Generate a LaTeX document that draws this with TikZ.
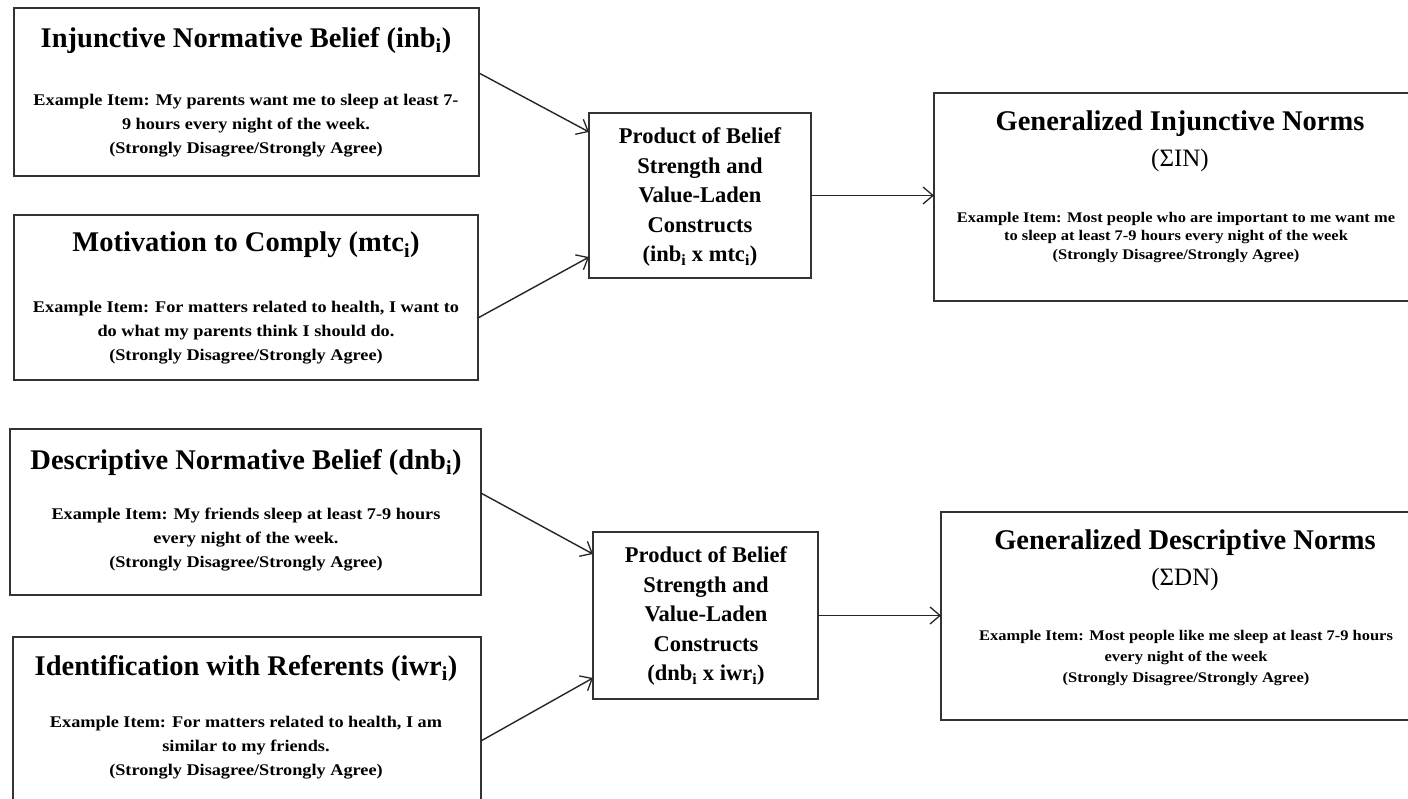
\documentclass[tikz,border=0pt]{standalone}
\usepackage{fontspec}
\usepackage{graphicx}
\setmainfont{Liberation Serif}
\usetikzlibrary{arrows.meta,calc}
\newcommand{\wtxt}[3]{{\bfseries\fontsize{#1}{#2}\selectfont\scalebox{1.12}[1]{\begin{tabular}{@{}c@{}}#3\end{tabular}}}}
\begin{document}
\begin{tikzpicture}[x=1pt,y=-1pt,
  box/.style={draw=black!80, line width=1.8pt, inner sep=0pt, outer sep=0pt},
  ttl/.style={font=\bfseries\fontsize{28.5}{30}\selectfont, inner sep=0pt},
  prod/.style={font=\bfseries\fontsize{22.5}{29.5}\selectfont, align=center, inner sep=0pt},
  sig/.style={font=\fontsize{25}{27}\selectfont, inner sep=0pt},
  bod/.style={inner sep=0pt},
  arr/.style={-{Straight Barb[length=10pt,width=17pt,line width=1.3pt]}, line width=1.4pt, draw=black!85},
]
\useasboundingbox (0,0) rectangle (1408,798);
\fill[white] (0,0) rectangle (1408,798);
\clip (0,0) rectangle (1408,798);

% left boxes
\node[box, minimum width=465pt, minimum height=168pt] (A) at (246.5,92) {};
\node[box, minimum width=464pt, minimum height=165pt] (B) at (246,297.5) {};
\node[box, minimum width=471pt, minimum height=166pt] (C) at (245.5,512) {};
\node[box, minimum width=468pt, minimum height=183pt] (D) at (247,728.5) {};
% product boxes
\node[box, minimum width=222pt, minimum height=165pt] (P1) at (700,195.5) {};
\node[box, minimum width=225pt, minimum height=167pt] (P2) at (705.5,615.5) {};
% right boxes
\node[box, minimum width=492pt, minimum height=208pt] (GIN) at (1180,197) {};
\node[box, minimum width=489pt, minimum height=208pt] (GDN) at (1185.5,616) {};

% texts in A
\node[ttl] (At) at (246,40) {Injunctive Normative Belief (inb\textsubscript{i})};
\node[bod] (Ab) at (246,125) {\wtxt{16.3}{24}{Example Item: My parents want me to sleep at least 7-\\9 hours every night of the week.\\(Strongly Disagree/Strongly Agree)}};
% texts in B
\node[ttl] (Bt) at (246,245) {Motivation to Comply (mtc\textsubscript{i})};
\node[bod] (Bb) at (246,332) {\wtxt{16.3}{24}{Example Item: For matters related to health, I want to\\do what my parents think I should do.\\(Strongly Disagree/Strongly Agree)}};
% texts in C
\node[ttl] (Ct) at (246,462) {Descriptive Normative Belief (dnb\textsubscript{i})};
\node[bod] (Cb) at (246,539) {\wtxt{16.3}{24}{Example Item: My friends sleep at least 7-9 hours\\every night of the week.\\(Strongly Disagree/Strongly Agree)}};
% texts in D
\node[ttl] (Dt) at (246,668) {Identification with Referents (iwr\textsubscript{i})};
\node[bod] (Db) at (246,747) {\wtxt{16.3}{24}{Example Item: For matters related to health, I am\\similar to my friends.\\(Strongly Disagree/Strongly Agree)}};

% product texts
\node[prod] (P1t) at (700,197) {Product of Belief\\Strength and\\Value-Laden\\Constructs\\(inb\textsubscript{i} x mtc\textsubscript{i})};
\node[prod] (P2t) at (706,616) {Product of Belief\\Strength and\\Value-Laden\\Constructs\\(dnb\textsubscript{i} x iwr\textsubscript{i})};

% right texts
\node[ttl] (GINt) at (1180,124) {Generalized Injunctive Norms};
\node[sig] (GINs) at (1180,160) {(Σ{}IN)};
\node[bod] (GINb) at (1176,237) {\wtxt{14.7}{18.5}{Example Item: Most people who are important to me want me\\to sleep at least 7-9 hours every night of the week\\(Strongly Disagree/Strongly Agree)}};
\node[ttl] (GDNt) at (1185,543) {Generalized Descriptive Norms};
\node[sig] (GDNs) at (1185,579) {(Σ{}DN)};
\node[bod] (GDNb) at (1186,657) {\wtxt{14.7}{21}{Example Item: Most people like me sleep at least 7-9 hours\\every night of the week\\(Strongly Disagree/Strongly Agree)}};

% connectors
\draw[arr] ($(A.north east)!0.387!(A.south east)$) -- ($(P1.north west)!0.115!(P1.south west)$);
\draw[arr] ($(B.north east)!0.624!(B.south east)$) -- ($(P1.north west)!0.873!(P1.south west)$);
\draw[arr] ($(C.north east)!0.386!(C.south east)$) -- ($(P2.north west)!0.132!(P2.south west)$);
\draw[arr] ($(D.north east)!0.568!(D.south east)$) -- ($(P2.north west)!0.874!(P2.south west)$);
\draw[arr] (P1.east) -- (P1.east -| GIN.west);
\draw[arr] (P2.east) -- (P2.east -| GDN.west);
\end{tikzpicture}
\end{document}
